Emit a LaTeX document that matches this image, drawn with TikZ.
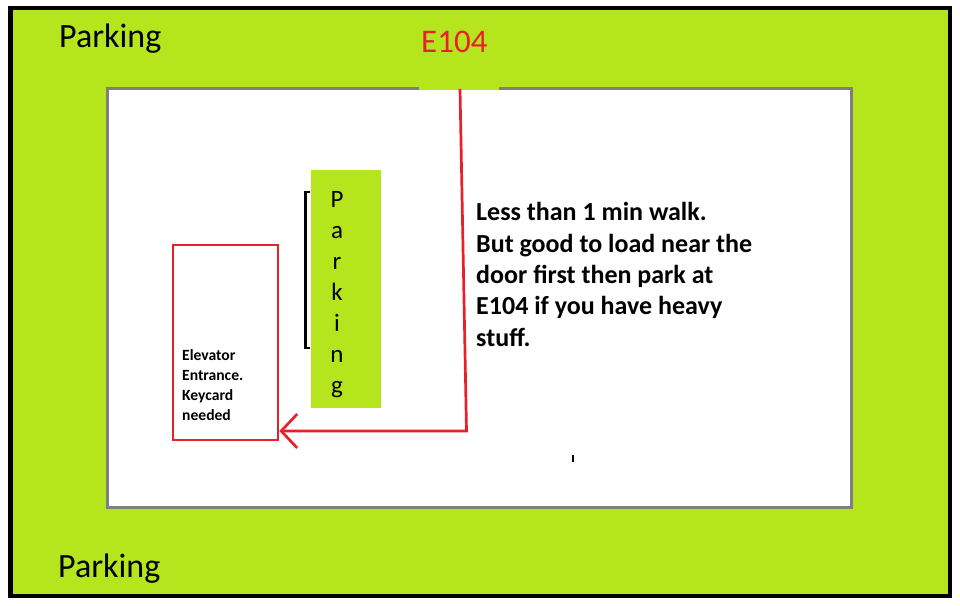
\documentclass[tikz,border=0pt]{standalone}
\usepackage{fontspec}
\setmainfont{Carlito}
\usetikzlibrary{arrows.meta}
\definecolor{lime}{HTML}{B5E61D}
\definecolor{pred}{HTML}{E8202A}
\definecolor{wallgray}{HTML}{7F7F7F}
\tikzset{
  redline/.style={draw=pred, line width=2.7pt},
  bigtxt/.style={font=\fontsize{34}{40}\selectfont, inner sep=0pt, anchor=base west},
}
\begin{document}
\begin{tikzpicture}[x=1pt,y=-1pt]
\useasboundingbox (0,0) rectangle (960,605);
% outer lot
\draw[line width=4.5pt, fill=lime] (10.5,8) rectangle (950,596);
% building
\fill[white] (107,88) rectangle (851,507);
\fill[lime] (419,86) rectangle (499,90);
\draw[wallgray, line width=3pt] (419,88) -- (107,88) -- (107,507) -- (851,507) -- (851,88) -- (499,88);
% labels
\node[bigtxt] (ptop) at (59,47) {Parking};
\node[bigtxt] (pbot) at (58,577) {Parking};
\node[bigtxt, text=pred, font=\fontsize{33}{40}\selectfont] (e104) at (421,52) {E104};
% parking strip
\node[fill=lime, minimum width=70pt, minimum height=238pt, inner sep=0pt] (strip) at (345.5,289) {};
\node[font=\fontsize{25}{31}\selectfont, align=center, inner sep=0pt, anchor=base] (letters) at (337,393)
  {P\\a\\r\\k\\i\\n\\g};
\draw[line width=2.5pt] (310,192) -- (305.5,192) -- (305.5,348) -- (310,348);
% elevator
\node[redline, minimum width=105pt, minimum height=195pt, inner sep=0pt] (elev) at (225.5,342.5) {};
\node[font=\bfseries\fontsize{15.6}{20}\selectfont, align=left, inner sep=0pt, anchor=base west] (elevtxt) at (182,420)
  {Elevator\\Entrance.\\Keycard\\needed};
% route
\coordinate (door) at (460,89);
\coordinate (turn) at (466.5,431);
\draw[redline, -{Straight Barb[length=16pt, width=34pt, line width=2.7pt]}] (door) -- (turn) -- (elev.east |- turn);
% note
\node[font=\bfseries\fontsize{26}{31.3}\selectfont, align=left, inner sep=0pt, anchor=base west] (note) at (476,346)
  {Less than 1 min walk.\\But good to load near the\\door first then park at\\E104 if you have heavy\\stuff.};
% small tick
\coordinate (t1) at (573,455);
\coordinate (t2) at (573,462);
\draw[line width=1.5pt] (t1) -- (t2);
\end{tikzpicture}
\end{document}
